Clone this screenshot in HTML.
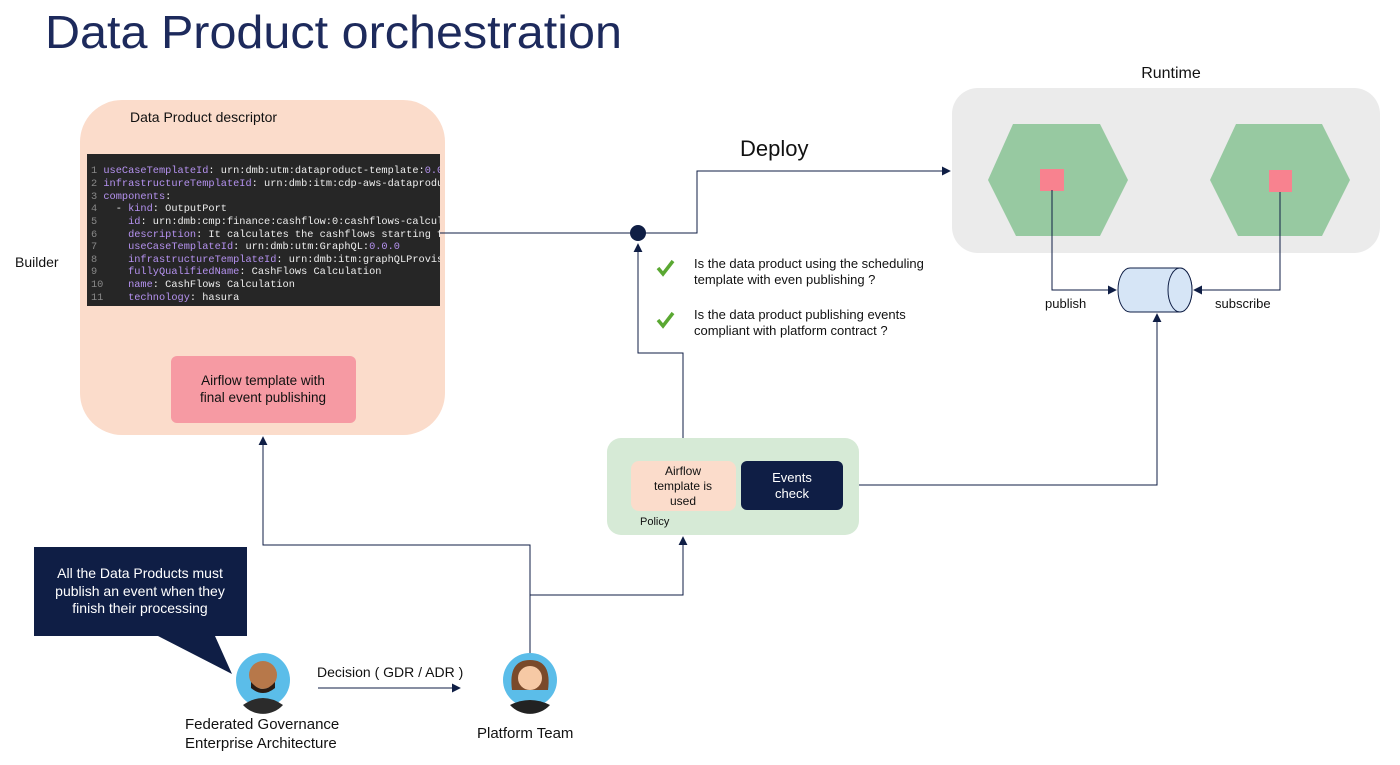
<!DOCTYPE html>
<html><head><meta charset="utf-8"><style>
html,body{margin:0;padding:0;background:#fff;width:1400px;height:765px;overflow:hidden}
svg text{font-family:"Liberation Sans",sans-serif}
svg .m text{font-family:"Liberation Mono",monospace;font-size:10.3px;white-space:pre}
</style></head><body>
<svg width="1400" height="765" viewBox="0 0 1400 765" xmlns="http://www.w3.org/2000/svg">
<defs>
<marker id="a" viewBox="0 0 10 10" refX="9" refY="5" markerWidth="9" markerHeight="9" markerUnits="userSpaceOnUse" orient="auto"><path d="M0,0L10,5L0,10z" fill="#0f1e45"/></marker>
<clipPath id="cb"><rect x="87" y="154" width="353" height="152"/></clipPath>
</defs>
<text x="45" y="48" font-size="46" fill="#1d2a5c" textLength="577" lengthAdjust="spacingAndGlyphs">Data Product orchestration</text>

<rect x="80" y="100" width="365" height="335" rx="42" fill="#fbdccb"/>
<text x="130" y="122" font-size="14" fill="#111">Data Product descriptor</text>
<rect x="87" y="154" width="353" height="152" fill="#262626"/>
<g class="m" xml:space="preserve" clip-path="url(#cb)">
<text x="91" y="173"><tspan fill="#888">1 </tspan><tspan fill="#b592f0">useCaseTemplateId</tspan><tspan fill="#eee">: urn:dmb:utm:dataproduct-template:</tspan><tspan fill="#b592f0">0.0</tspan></text>
<text x="91" y="186"><tspan fill="#888">2 </tspan><tspan fill="#b592f0">infrastructureTemplateId</tspan><tspan fill="#eee">: urn:dmb:itm:cdp-aws-dataprodu</tspan></text>
<text x="91" y="199"><tspan fill="#888">3 </tspan><tspan fill="#b592f0">components</tspan><tspan fill="#eee">:</tspan></text>
<text x="91" y="211"><tspan fill="#888">4 </tspan><tspan fill="#eee">  - </tspan><tspan fill="#b592f0">kind</tspan><tspan fill="#eee">: OutputPort</tspan></text>
<text x="91" y="224"><tspan fill="#888">5 </tspan><tspan fill="#eee">    </tspan><tspan fill="#b592f0">id</tspan><tspan fill="#eee">: urn:dmb:cmp:finance:cashflow:0:cashflows-calcul</tspan></text>
<text x="91" y="237"><tspan fill="#888">6 </tspan><tspan fill="#eee">    </tspan><tspan fill="#b592f0">description</tspan><tspan fill="#eee">: It calculates the cashflows starting f</tspan></text>
<text x="91" y="249"><tspan fill="#888">7 </tspan><tspan fill="#eee">    </tspan><tspan fill="#b592f0">useCaseTemplateId</tspan><tspan fill="#eee">: urn:dmb:utm:GraphQL:</tspan><tspan fill="#b592f0">0.0.0</tspan></text>
<text x="91" y="262"><tspan fill="#888">8 </tspan><tspan fill="#eee">    </tspan><tspan fill="#b592f0">infrastructureTemplateId</tspan><tspan fill="#eee">: urn:dmb:itm:graphQLProvis</tspan></text>
<text x="91" y="274"><tspan fill="#888">9 </tspan><tspan fill="#eee">    </tspan><tspan fill="#b592f0">fullyQualifiedName</tspan><tspan fill="#eee">: CashFlows Calculation</tspan></text>
<text x="91" y="287"><tspan fill="#888">10</tspan><tspan fill="#eee">    </tspan><tspan fill="#b592f0">name</tspan><tspan fill="#eee">: CashFlows Calculation</tspan></text>
<text x="91" y="300"><tspan fill="#888">11</tspan><tspan fill="#eee">    </tspan><tspan fill="#b592f0">technology</tspan><tspan fill="#eee">: hasura</tspan></text>
</g>
<rect x="171" y="356" width="185" height="67" rx="6" fill="#f69aa3"/>
<text x="263" y="385" font-size="13.5" fill="#111" text-anchor="middle">Airflow template with</text>
<text x="263" y="402" font-size="13.5" fill="#111" text-anchor="middle">final event publishing</text>
<text x="15" y="267" font-size="14" fill="#111">Builder</text>

<text x="1171" y="78" font-size="16" fill="#111" text-anchor="middle">Runtime</text>
<rect x="952" y="88" width="428" height="165" rx="26" fill="#ebebeb"/>
<polygon points="1013,124 1100,124 1128,180 1100,236 1016,236 988,180" fill="#97c9a1"/>
<polygon points="1236,124 1322,124 1350,180 1322,236 1238,236 1210,180" fill="#97c9a1"/>
<rect x="1040" y="169" width="24" height="22" fill="#f8828f"/>
<rect x="1269" y="170" width="23" height="22" fill="#f8828f"/>

<g stroke="#0f1e45" stroke-width="1" fill="none">
<path d="M440,233H697V171H950" marker-end="url(#a)"/>
<path d="M683,450V353H638V244" marker-end="url(#a)"/>
<path d="M1052,190V290H1116" marker-end="url(#a)"/>
<path d="M1280,192V290H1194" marker-end="url(#a)"/>
<path d="M843,485H1157V314" marker-end="url(#a)"/>
<path d="M530,655V545H263V437" marker-end="url(#a)"/>
<path d="M530,595H683V537" marker-end="url(#a)"/>
<path d="M318,688H460" marker-end="url(#a)"/>
</g>
<circle cx="638" cy="233" r="8" fill="#0f1e45"/>
<text x="740" y="156" font-size="22" fill="#111">Deploy</text>

<path d="M658,268l5,6l10,-13" stroke="#5aa832" stroke-width="3.5" fill="none"/>
<path d="M658,320l5,6l10,-13" stroke="#5aa832" stroke-width="3.5" fill="none"/>
<g font-size="13" fill="#111">
<text x="694" y="268">Is the data product using the scheduling</text>
<text x="694" y="284">template with even publishing ?</text>
<text x="694" y="319">Is the data product publishing events</text>
<text x="694" y="335">compliant with platform contract ?</text>
</g>

<path d="M1130,268H1180A12,22 0 0 1 1180,312H1130A12,22 0 0 1 1130,268Z" fill="#d6e5f6" stroke="#0f1e45"/>
<ellipse cx="1180" cy="290" rx="12" ry="22" fill="#d6e5f6" stroke="#0f1e45"/>
<text x="1045" y="308" font-size="13" fill="#111">publish</text>
<text x="1215" y="308" font-size="13" fill="#111">subscribe</text>

<rect x="607" y="438" width="252" height="97" rx="14" fill="#d6ead6"/>
<rect x="631" y="461" width="105" height="50" rx="8" fill="#fbdccb"/>
<text x="683" y="475" font-size="12" fill="#111" text-anchor="middle">Airflow</text>
<text x="683" y="490" font-size="12" fill="#111" text-anchor="middle">template is</text>
<text x="683" y="505" font-size="12" fill="#111" text-anchor="middle">used</text>
<rect x="741" y="461" width="102" height="49" rx="6" fill="#0f1e45"/>
<text x="792" y="482" font-size="13" fill="#fff" text-anchor="middle">Events</text>
<text x="792" y="498" font-size="13" fill="#fff" text-anchor="middle">check</text>
<text x="640" y="525" font-size="11" fill="#111">Policy</text>

<path d="M34,547H247V636H215L232,674L158,636H34Z" fill="#0f1e45"/>
<text x="140" y="578" font-size="14" fill="#fff" text-anchor="middle">All the Data Products must</text>
<text x="140" y="596" font-size="14" fill="#fff" text-anchor="middle">publish an event when they</text>
<text x="140" y="613" font-size="14" fill="#fff" text-anchor="middle">finish their processing</text>

<circle cx="263" cy="680" r="27" fill="#5bbde9"/>
<circle cx="263" cy="675" r="14" fill="#b7784a"/>
<path d="M251,682q12,14 24,0v6q-12,10 -24,0z" fill="#2a1c14"/>
<path d="M243,705q20,-14 40,0a27,27 0 0 1 -40,0z" fill="#2b2b2b"/>
<circle cx="530" cy="680" r="27" fill="#5bbde9"/>
<path d="M512,690q-4,-30 18,-30q22,0 18,30z" fill="#7a4a2a"/>
<circle cx="530" cy="678" r="12" fill="#f6c9a5"/>
<path d="M510,705q20,-10 40,0a27,27 0 0 1 -40,0z" fill="#222"/>

<text x="317" y="677" font-size="14" fill="#111">Decision ( GDR / ADR )</text>
<text x="185" y="729" font-size="15" fill="#111">Federated Governance</text>
<text x="185" y="748" font-size="15" fill="#111">Enterprise Architecture</text>
<text x="477" y="738" font-size="15" fill="#111">Platform Team</text>
</svg>
</body></html>
